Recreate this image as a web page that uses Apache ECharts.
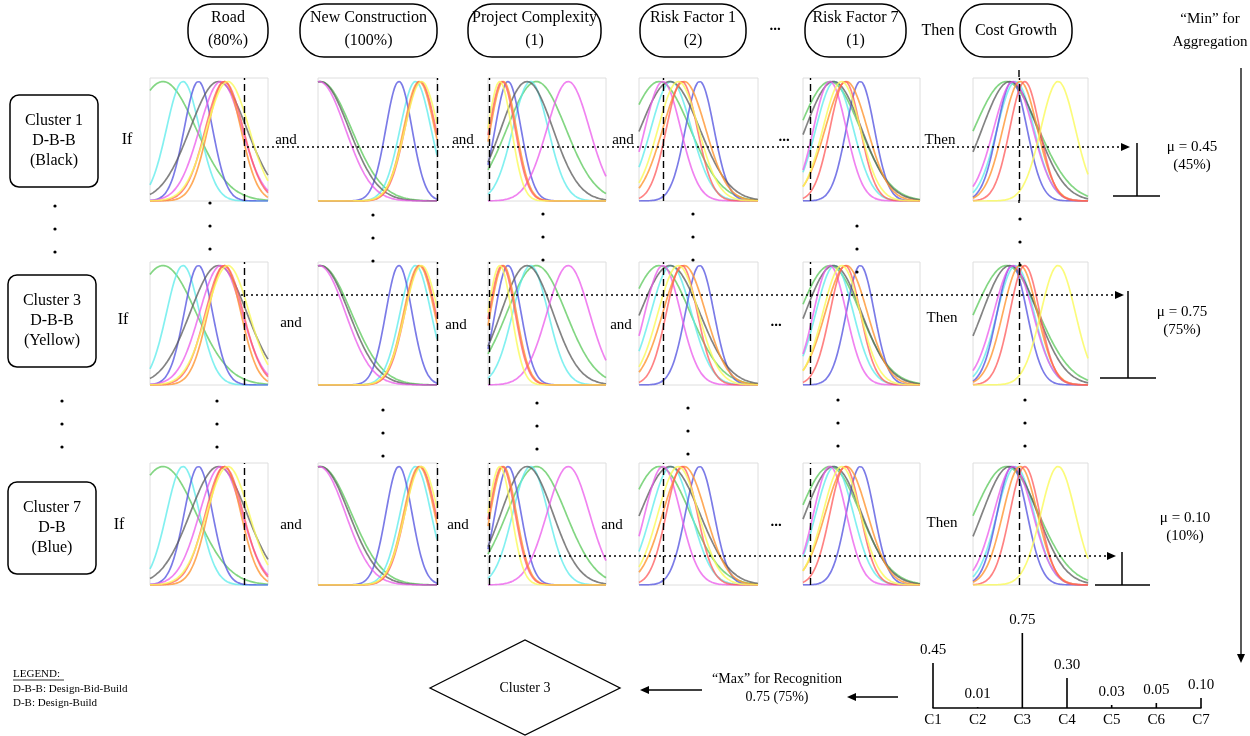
<!DOCTYPE html>
<html>
<head>
<meta charset="utf-8">
<script src="https://cdn.jsdelivr.net/npm/echarts@6/dist/echarts.min.js"></script>
<style>html,body{margin:0;padding:0;background:#fff;}#main{width:1250px;height:736px;}</style>
</head>
<body>
<div id="main"></div>
<script>
// ---------------- DATA ----------------
const headerTitles = ['Road', 'New Construction', 'Project Complexity', 'Risk Factor 1', 'Risk Factor 7', 'Cost Growth'];
const headerValues = ['(80%)', '(100%)', '(1)', '(2)', '(1)', ''];
const clusterNames = ['Cluster 1', 'Cluster 3', 'Cluster 7'];
const clusterTypes = ['D-B-B', 'D-B-B', 'D-B'];
const clusterColors = ['(Black)', '(Yellow)', '(Blue)'];
const ruleStrengths = [0.45, 0.75, 0.10];
const stemCategories = ['C1', 'C2', 'C3', 'C4', 'C5', 'C6', 'C7'];
const stemValues = [0.45, 0.01, 0.75, 0.30, 0.03, 0.05, 0.10];
const recognizedCluster = 'Cluster 3';
const recognizedValue = 0.75;

// membership function colour order
const mfNames = ['green', 'cyan', 'blue', 'gray', 'magenta', 'orange', 'red', 'yellow'];
// membership-function centres and spreads (fraction of each panel's input range)
const roadCenters = [0.11, 0.28, 0.41, 0.58, 0.60, 0.63, 0.63, 0.66];
const roadSpreads = [0.28, 0.14, 0.12, 0.24, 0.18, 0.14, 0.16, 0.18];
const newConstCenters = [0.02, 0.82, 0.68, 0.02, 0.01, 0.85, 0.86, 0.87];
const newConstSpreads = [0.26, 0.13, 0.11, 0.24, 0.22, 0.13, 0.13, 0.14];
const complexityCenters = [0.41, 0.36, 0.17, 0.33, 0.68, 0.13, 0.12, 0.10];
const complexitySpreads = [0.25, 0.15, 0.11, 0.22, 0.18, 0.11, 0.11, 0.10];
const risk1Centers = [0.17, 0.27, 0.51, 0.26, 0.20, 0.38, 0.36, 0.33];
const risk1Spreads = [0.26, 0.17, 0.12, 0.25, 0.15, 0.18, 0.13, 0.17];
const risk7Centers = [0.23, 0.27, 0.49, 0.26, 0.23, 0.37, 0.36, 0.33];
const risk7Spreads = [0.26, 0.16, 0.12, 0.24, 0.14, 0.18, 0.13, 0.16];
const costCenters = [0.29, 0.37, 0.34, 0.32, 0.35, 0.41, 0.45, 0.74];
const costSpreads = [0.28, 0.16, 0.13, 0.24, 0.17, 0.15, 0.13, 0.15];
// crisp inputs (dashed lines), fraction of range, per column
const inputMarks = [0.80, 1.00, 0.005, 0.20, 0.06, 0.40];

// ---------------- LAYOUT ----------------
const FONT = '"Liberation Serif", "Times New Roman", serif';
const colLeft = [150, 318, 488, 639, 803, 973];
const colWidth = [118, 119, 118, 119, 117, 115];
const rowTop = [78, 262, 463];
const rowHeight = [123, 123, 122];
const mfColors = {
  green: 'rgba(90,200,90,0.75)', cyan: 'rgba(90,235,235,0.75)', blue: 'rgba(90,90,225,0.8)',
  gray: 'rgba(90,90,90,0.75)', magenta: 'rgba(235,90,235,0.75)', orange: 'rgba(255,150,50,0.8)',
  red: 'rgba(255,90,90,0.75)', yellow: 'rgba(250,250,90,0.8)'
};
const panelCenters = [roadCenters, newConstCenters, complexityCenters, risk1Centers, risk7Centers, costCenters];
const panelSpreads = [roadSpreads, newConstSpreads, complexitySpreads, risk1Spreads, risk7Spreads, costSpreads];

function gaussSamples(c, s) {
  const pts = [];
  for (let i = 0; i <= 60; i++) {
    const x = i / 60;
    pts.push([x, Math.exp(-0.5 * Math.pow((x - c) / s, 2))]);
  }
  return pts;
}

const grid = [], xAxis = [], yAxis = [], series = [];
let gi = 0;
for (let r = 0; r < 3; r++) {
  for (let c = 0; c < 6; c++) {
    grid.push({ left: colLeft[c], top: rowTop[r], width: colWidth[c], height: rowHeight[r],
      show: true, borderColor: '#dedede', borderWidth: 1, backgroundColor: '#fff' });
    xAxis.push({ gridIndex: gi, type: 'value', min: 0, max: 1, axisLine: { show: false },
      axisTick: { show: false }, axisLabel: { show: false }, splitLine: { show: false } });
    yAxis.push({ gridIndex: gi, type: 'value', min: 0, max: 1.03, axisLine: { show: false },
      axisTick: { show: false }, axisLabel: { show: false }, splitLine: { show: false } });
    const cs = panelCenters[c], ss = panelSpreads[c];
    for (let k = 0; k < mfNames.length; k++) {
      const s = {
        type: 'line', xAxisIndex: gi, yAxisIndex: gi, data: gaussSamples(cs[k], ss[k]),
        smooth: true, showSymbol: false, silent: true,
        lineStyle: { color: mfColors[mfNames[k]], width: 1.7 }
      };
      if (k === 0) {
        s.markLine = { silent: true, symbol: 'none', label: { show: false },
          lineStyle: { color: '#000', type: [7, 4], width: 1.4 },
          data: [{ xAxis: inputMarks[c] }] };
      }
      series.push(s);
    }
    gi++;
  }
}

// stem chart (aggregated strengths)
grid.push({ left: 933, width: 268, top: 633, height: 75 });
xAxis.push({ gridIndex: gi, type: 'value', min: 1, max: 7, interval: 1,
  axisLine: { show: true, lineStyle: { color: '#000', width: 1.5 } }, axisTick: { show: false },
  splitLine: { show: false },
  axisLabel: { color: '#000', fontFamily: FONT, fontSize: 15, margin: 5, formatter: v => stemCategories[v - 1] || '' } });
yAxis.push({ gridIndex: gi, type: 'value', min: 0, max: 0.75, show: false, splitLine: { show: false } });
series.push({
  type: 'bar', xAxisIndex: gi, yAxisIndex: gi, barWidth: 1.6,
  data: stemValues.map((v, i) => [i + 1, v]),
  itemStyle: { color: '#000' },
  label: { show: true, position: 'top', distance: 5, color: '#000', fontFamily: FONT, fontSize: 15,
    formatter: p => p.value[1].toFixed(2) }
});

// ---------------- GRAPHICS ----------------
const g = [];
function txt(t, x, y, size, opts) {
  g.push({ type: 'text', z: 100, style: Object.assign({ text: t, x: x, y: y,
    font: size + 'px ' + FONT, fill: '#000', align: 'center', verticalAlign: 'middle' }, opts || {}) });
}
function line(x1, y1, x2, y2, w, dash) {
  g.push({ type: 'line', z: 90, shape: { x1, y1, x2, y2 },
    style: { stroke: '#000', lineWidth: w || 1.5, lineDash: dash || null } });
}
function arrowHead(x, y, dir) {
  let pts;
  if (dir === 'right') pts = [[x, y], [x - 9, y - 4], [x - 9, y + 4]];
  else if (dir === 'left') pts = [[x, y], [x + 9, y - 4], [x + 9, y + 4]];
  else pts = [[x, y], [x - 4, y - 9], [x + 4, y - 9]];
  g.push({ type: 'polygon', z: 95, shape: { points: pts }, style: { fill: '#000' } });
}
function rrect(x, y, w, h, r) {
  g.push({ type: 'rect', z: 80, shape: { x, y, width: w, height: h, r },
    style: { fill: 'none', stroke: '#000', lineWidth: 1.5 } });
}
function dot(x, y) {
  g.push({ type: 'circle', z: 90, shape: { cx: x, cy: y, r: 1.6 }, style: { fill: '#000' } });
}

// header ovals
const hdrX = [188, 300, 468, 640, 805, 960];
const hdrW = [80, 137, 133, 106, 101, 112];
for (let c = 0; c < 6; c++) {
  rrect(hdrX[c], 4, hdrW[c], 53, 24);
  const cx = hdrX[c] + hdrW[c] / 2;
  if (headerValues[c]) {
    txt(headerTitles[c], cx, 18, 16);
    txt(headerValues[c], cx, 41, 16);
  } else {
    txt(headerTitles[c], cx, 31, 16);
  }
}
txt('...', 775, 26, 15, { font: 'bold 15px ' + FONT });
txt('Then', 938, 31, 16);
txt('\u201cMin\u201d for', 1210, 19, 15);
txt('Aggregation', 1210, 42, 15);

// cluster boxes
const boxTop = [95, 275, 482];
const boxLeftX = [10, 8, 8];
const ifY = [140, 320, 525];
for (let r = 0; r < 3; r++) {
  rrect(boxLeftX[r], boxTop[r], 88, 92, 9);
  const cx = boxLeftX[r] + 44;
  txt(clusterNames[r], cx, boxTop[r] + 26, 16);
  txt(clusterTypes[r], cx, boxTop[r] + 46, 16);
  txt(clusterColors[r], cx, boxTop[r] + 66, 16);
  txt('If', r === 2 ? 119 : (r === 1 ? 123 : 127), ifY[r], 16);
}

// connective words
const andPos = [[[286, 140], [463, 140], [623, 140]], [[291, 323], [456, 325], [621, 325]], [[291, 525], [458, 525], [612, 525]]];
const ellPos = [[784, 137], [776, 322], [776, 522]];
const thenPos = [[940, 140], [942, 318], [942, 523]];
for (let r = 0; r < 3; r++) {
  andPos[r].forEach(p => txt('and', p[0], p[1], 15));
  txt('...', ellPos[r][0], ellPos[r][1], 15, { font: 'bold 15px ' + FONT });
  txt('Then', thenPos[r][0], thenPos[r][1], 15);
}

// dotted rule lines to aggregation + T markers
const dotY = [147, 295, 556];
const dotStart = [247, 241, 484];
const dotEnd = [1130, 1124, 1116];
const tX = [1137, 1128, 1122];
const tBottom = [196, 378, 585];
const tBase = [[1113, 1160], [1100, 1156], [1095, 1150]];
const muPos = [[1192, 147], [1182, 312], [1185, 518]];
for (let r = 0; r < 3; r++) {
  line(dotStart[r], dotY[r], dotEnd[r] - 8, dotY[r], 1.5, [2, 3]);
  arrowHead(dotEnd[r], dotY[r], 'right');
  line(tX[r], dotY[r] - 4, tX[r], tBottom[r], 1.5);
  line(tBase[r][0], tBottom[r], tBase[r][1], tBottom[r], 1.5);
  txt('\u03bc = ' + ruleStrengths[r].toFixed(2), muPos[r][0], muPos[r][1], 15);
  txt('(' + Math.round(ruleStrengths[r] * 100) + '%)', muPos[r][0], muPos[r][1] + 18, 15);
}
// cost growth dashed extension above/below panel
line(1019, 70, 1019, 78, 1.4, [7, 4]);
line(1019, 200, 1019, 203, 1.4);

// vertical ellipsis dots between rows
const dots1 = [[55, 206], [210, 203], [373, 215], [543, 214], [693, 214], [857, 226], [1020, 219]];
const dots2 = [[62, 401], [217, 401], [383, 410], [537, 403], [688, 408], [838, 400], [1025, 400]];
dots1.concat(dots2).forEach(p => { dot(p[0], p[1]); dot(p[0], p[1] + 23); dot(p[0], p[1] + 46); });

// right-side long arrow
line(1241, 68, 1241, 654, 1.3);
arrowHead(1241, 663, 'down');

// max recognition
line(855, 697, 898, 697, 1.3);
arrowHead(847, 697, 'left');
txt('\u201cMax\u201d for Recognition', 777, 679, 14);
txt(recognizedValue.toFixed(2) + ' (' + Math.round(recognizedValue * 100) + '%)', 777, 697, 14);
line(648, 690, 702, 690, 1.3);
arrowHead(640, 690, 'left');
g.push({ type: 'polygon', z: 80, shape: { points: [[430, 688], [525, 640], [620, 688], [525, 735]] },
  style: { fill: 'none', stroke: '#000', lineWidth: 1.3 } });
txt(recognizedCluster, 525, 688, 14);

// legend
txt('LEGEND:', 13, 674, 11, { align: 'left' });
line(13, 680, 64, 680, 0.8);
txt('D-B-B: Design-Bid-Build', 13, 689, 11, { align: 'left' });
txt('D-B: Design-Build', 13, 703, 11, { align: 'left' });

const chart = echarts.init(document.getElementById('main'), null, { renderer: 'canvas' });
chart.setOption({
  animation: false,
  backgroundColor: '#fff',
  grid, xAxis, yAxis, series,
  graphic: g
});
</script>
</body>
</html>
